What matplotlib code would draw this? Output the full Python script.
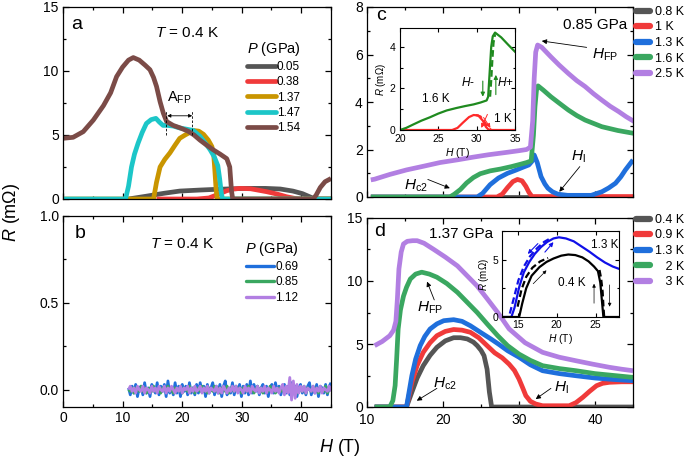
import numpy as np
import matplotlib
matplotlib.use("Agg")
import matplotlib.pyplot as plt
from matplotlib.ticker import MultipleLocator, FormatStrFormatter
from matplotlib.lines import Line2D

plt.rcParams['font.family'] = ['Liberation Sans', 'DejaVu Sans']
plt.rcParams['mathtext.fontset'] = 'custom'
plt.rcParams['mathtext.rm'] = 'Liberation Sans'
plt.rcParams['mathtext.it'] = 'Liberation Sans:italic'
plt.rcParams['mathtext.bf'] = 'Liberation Sans:bold'

# ---------------- colours ----------------
C_GRAY = '#555555'
C_RED = '#f03a3a'
C_GOLD = '#c99500'
C_CYAN = '#1cc6c8'
C_BROWN = '#7b4b47'
C_BLUE = '#1f6fdc'
C_GREEN = '#3aa760'
C_VIOLET = '#b27fe2'

# ---------------- panel a : T = 0.4 K ----------------
a_labels = ['0.05', '0.38', '1.37', '1.47', '1.54']
a_H_005 = [11, 14, 17, 19.6, 23, 26, 30.8, 34, 36.5, 38.6, 40.2, 41.4, 42.3, 45]
a_R_005 = [0, 0.22, 0.45, 0.62, 0.7, 0.76, 0.83, 0.83, 0.78, 0.62, 0.42, 0.18, 0.0, 0]
a_H_038 = [15.7, 22.5, 24.5, 26.0, 27.5, 28.7, 29.7, 31.5, 34.2, 36.0, 37.5, 39.0, 40.0, 45]
a_R_038 = [0, 0, 0.08, 0.35, 0.65, 0.78, 0.83, 0.8, 0.57, 0.38, 0.18, 0.04, 0, 0]
a_H_137 = [0, 15.2, 15.7, 16.3, 17.1, 17.95, 18.8, 19.6, 20.5, 21.3, 22.0, 22.8, 23.6, 24.4, 25.0, 25.3, 25.5, 25.7, 25.9, 45]
a_R_137 = [0, 0, 1.3, 2.5, 3.1, 3.6, 4.2, 4.74, 5.0, 5.2, 5.35, 5.3, 5.05, 4.6, 4.1, 3.5, 2.2, 0.8, 0, 0]
a_H_147 = [0, 10.5, 11.0, 11.5, 12.0, 12.6, 13.3, 14.0, 14.8, 15.6, 16.2, 16.8, 17.5, 18.5, 19.6, 20.8, 21.9, 23.0, 24.0, 24.7, 25.4, 26.0, 26.3, 26.6, 26.8, 45]
a_R_147 = [0, 0, 1.0, 2.5, 3.5, 4.35, 5.2, 5.9, 6.2, 6.3, 6.0, 5.75, 5.75, 5.7, 5.55, 5.45, 5.35, 4.9, 4.3, 3.85, 3.3, 2.6, 1.6, 0.4, 0, 0]
a_H_154 = [0, 1.7, 3.4, 5.1, 6.8, 8.0, 9.0, 10.0, 11.0, 11.8, 12.8, 13.8, 14.6, 15.2, 15.7, 16.3, 16.85, 17.4, 18.5, 19.7, 21.0, 22.0, 23.0, 24.0, 25.2, 26.4, 27.5, 28.0, 28.3, 28.5, 42.0, 42.5, 43.2, 44.0, 45]
a_R_154 = [4.74, 4.82, 5.26, 6.17, 7.3, 8.3, 9.56, 10.3, 10.85, 11.05, 10.85, 10.45, 10.1, 9.5, 8.8, 7.6, 6.7, 6.05, 5.75, 5.55, 5.3, 5.0, 4.6, 4.25, 3.85, 3.5, 3.15, 2.5, 0.6, 0, 0, 0.3, 0.9, 1.35, 1.6]

# ---------------- panel b : T = 0.4 K (noise at zero) ----------------
b_labels = ['0.69', '0.85', '1.12']
b_R_069 = [0.01, -0.03, 0.02, -0.02, 0.03, -0.04, 0.01, 0.02, -0.03, 0.04, -0.02, 0.01, -0.04, 0.03, 0.00,
           -0.02, 0.04, -0.03, 0.02, -0.01, 0.03, -0.04, 0.05, -0.02, 0.01, -0.03, 0.04, -0.02, 0.02, -0.04,
           0.03, -0.01, 0.02, -0.03, 0.04, -0.02, 0.01, -0.03, 0.03, -0.02, 0.04, -0.01, 0.02, -0.04, 0.03,
           -0.02, 0.01, 0.04, -0.03, 0.02, -0.02, 0.03, -0.04, 0.02, 0.05, -0.03, 0.01, -0.02, 0.04, -0.03,
           0.02, -0.01, 0.03, -0.04, 0.02, -0.02, 0.03, -0.03, 0.05,
           -0.02, 0.03, -0.01, 0.02, -0.03, 0.01, 0.03, -0.02, 0.02, -0.04, 0.01, 0.03, -0.02, 0.04, -0.01,
           0.02, -0.03, 0.01, 0.03, -0.02, 0.02, -0.03, 0.04, -0.01, 0.02, -0.04, 0.01, 0.03, -0.02, 0.01,
           -0.03, 0.02, 0.04, -0.03, 0.01, -0.02, 0.03, -0.04, 0.02, 0.01, -0.02, 0.03, -0.03, 0.02, 0.04]
b_R_085 = [0.0, -0.01, 0.01, -0.02, 0.01, 0.0, -0.01, 0.02, -0.01, 0.01, -0.02, 0.0, 0.01, -0.01, 0.02,
           -0.01, 0.0, 0.01, -0.02, 0.01, 0.0, -0.01, 0.02, -0.01, 0.01, -0.02, 0.01, 0.0, -0.01, 0.02,
           -0.02, 0.01, 0.0, -0.01, 0.02, -0.01, 0.01, -0.02, 0.01, 0.0, -0.01, 0.02, -0.01, 0.01, -0.02,
           0.01, 0.0, -0.01, 0.02, -0.01, 0.01, -0.02, 0.01, 0.0, -0.01, 0.02, -0.02, 0.01, 0.0, -0.01,
           0.02, -0.01, 0.01, -0.02, 0.01, 0.0, -0.01, 0.02, -0.01,
           0.01, -0.02, 0.0, 0.02, -0.01, 0.01, -0.02, 0.01, 0.0, -0.01, 0.02, -0.01, 0.01, -0.02, 0.0,
           0.01, -0.01, 0.02, -0.02, 0.01, 0.0, -0.01, 0.02, -0.01, 0.01, -0.02, 0.01, 0.0, -0.01, 0.02,
           -0.02, 0.01, 0.0, -0.01, 0.02, -0.01, 0.01, -0.02, 0.01, 0.0, -0.01, 0.02, -0.02, 0.01, 0.0]
b_R_112 = [0.0, 0.02, -0.01, 0.01, -0.02, 0.02, 0.0, -0.01, 0.02, -0.02, 0.01, 0.0, -0.02, 0.02, -0.01,
           0.01, -0.02, 0.02, 0.0, -0.01, 0.02, -0.02, 0.01, -0.01, 0.02, 0.0, -0.02, 0.01, -0.01, 0.02,
           -0.02, 0.01, 0.0, 0.02, -0.02, 0.01, -0.01, 0.02, -0.01, 0.0, 0.02, -0.02, 0.01, -0.01, 0.02,
           -0.02, 0.01, 0.0, -0.01, 0.02, -0.02, 0.01, -0.02, 0.02, 0.0, -0.02, 0.01, -0.01, 0.02, -0.01,
           0.02, -0.02, 0.01, 0.0, -0.02, 0.02, -0.01, 0.01, -0.02, 0.02, 0.0, -0.01, 0.02, -0.02, 0.01,
           -0.01, 0.02, -0.02, 0.01, 0.0, -0.02, 0.02, -0.01, 0.01, -0.02, 0.01, 0.03, -0.03, 0.02, -0.02,
           0.07, -0.06, 0.05, -0.05, 0.03, -0.02, 0.02, -0.01, 0.02, -0.02, 0.01, 0.0, -0.01, 0.02, -0.02,
           0.01, -0.01, 0.02, -0.02, 0.01, 0.0, -0.01, 0.02, -0.01]
b_H_start, b_H_end = 11.0, 45.0

# ---------------- panel c : 0.85 GPa ----------------
c_labels = ['0.8 K', '1 K', '1.3 K', '1.6 K', '2.5 K']
c_H_08 = [10.5, 45]
c_R_08 = [0, 0]
c_H_10 = [10.5, 27.1, 27.8, 28.5, 29.2, 29.8, 30.4, 30.9, 31.3, 31.7, 45]
c_R_10 = [0, 0, 0.12, 0.4, 0.65, 0.74, 0.68, 0.45, 0.2, 0.02, 0.02]
c_H_13 = [10.5, 24.5, 25.2, 26.2, 27.3, 28.5, 29.5, 30.5, 31.3, 31.7, 32.0, 32.4, 32.9, 33.4, 33.8, 34.4, 35.1, 36.4, 39.5, 40.9, 41.8, 42.7, 43.4, 44.0, 45.0]
c_R_13 = [0, 0, 0.15, 0.52, 0.8, 1.0, 1.12, 1.25, 1.35, 1.5, 1.77, 1.45, 0.86, 0.55, 0.37, 0.22, 0.12, 0.07, 0.07, 0.22, 0.38, 0.58, 0.85, 1.14, 1.56]
c_H_16 = [10.5, 20.9, 21.5, 22.3, 23.1, 24.0, 24.9, 26.2, 27.6, 29.0, 30.2, 31.0, 31.6, 31.9, 32.1, 32.3, 32.5, 33.2, 34.2, 35.3, 36.5, 37.6, 38.7, 40.9, 43.0, 45.1]
c_R_16 = [0, 0, 0.12, 0.32, 0.59, 0.82, 0.98, 1.1, 1.18, 1.28, 1.38, 1.45, 1.52, 2.6, 3.8, 4.5, 4.68, 4.5, 4.22, 3.95, 3.66, 3.43, 3.24, 2.96, 2.8, 2.68]
c_H_25 = [10.5, 11.0, 13, 15.2, 17.5, 19.6, 22, 24, 26, 28.4, 30, 31.0, 31.5, 31.8, 32.0, 32.2, 32.45, 33.0, 34.2, 35.3, 36.5, 37.6, 38.7, 39.8, 40.9, 42.0, 43.1, 44.1, 45.2]
c_R_25 = [0.72, 0.75, 0.95, 1.14, 1.3, 1.45, 1.57, 1.68, 1.78, 1.88, 1.95, 2.0, 2.1, 3.2, 5.0, 6.1, 6.4, 6.3, 5.9, 5.55, 5.2, 4.9, 4.65, 4.35, 4.08, 3.82, 3.6, 3.38, 3.17]

# inset c
ci_H_16 = [20, 20.8, 21.7, 22.8, 23.9, 25.0, 26.1, 27.4, 28.5, 29.6, 30.5, 31.3, 31.5, 31.7, 31.9, 32.1, 32.4, 33.2, 34.1, 35]
ci_R_16 = [0, 0.1, 0.26, 0.45, 0.61, 0.79, 0.94, 1.06, 1.15, 1.23, 1.32, 1.42, 1.6, 2.8, 4.0, 4.5, 4.68, 4.45, 4.1, 3.76]
ci_H_16d = [31.75, 31.9, 32.05, 32.2, 32.4]
ci_R_16d = [1.6, 2.4, 3.4, 4.2, 4.6]
ci_H_10 = [20, 26.8, 27.5, 28.2, 29.0, 29.6, 30.2, 30.8, 31.2, 31.6, 35]
ci_R_10 = [0, 0, 0.1, 0.35, 0.62, 0.72, 0.7, 0.45, 0.15, 0, 0]
ci_H_10d = [29.9, 30.5, 31.0, 31.5, 31.9]
ci_R_10d = [0.72, 0.65, 0.4, 0.12, 0]

# ---------------- panel d : 1.37 GPa ----------------
d_labels = ['0.4 K', '0.9 K', '1.3 K', '   2 K', '   3 K']
d_H_04 = [11, 15.2, 15.9, 16.6, 17.4, 18.3, 19.2, 20.3, 21.4, 22.3, 23.2, 24.0, 24.5, 25.0, 25.4, 25.8, 26.1, 26.4, 45]
d_R_04 = [0, 0, 1.17, 2.3, 3.28, 4.1, 4.74, 5.25, 5.5, 5.5, 5.4, 5.15, 4.87, 4.5, 4.07, 3.0, 1.2, 0, 0]
d_H_09 = [11, 15.2, 15.9, 16.6, 17.4, 18.3, 19.2, 20.3, 21.4, 22.5, 23.6, 24.7, 25.8, 26.8, 27.8, 28.7, 29.4, 30.0, 30.5, 30.9, 31.5, 32.2, 33.1, 36.6, 37.5, 38.4, 39.3, 40.2, 41.0, 41.9, 43.5, 45]
d_R_09 = [0, 0, 1.96, 3.3, 4.34, 5.1, 5.66, 6.0, 6.15, 6.1, 5.93, 5.5, 4.87, 4.3, 3.9, 3.4, 2.9, 2.22, 1.5, 0.9, 0.45, 0.24, 0.1, 0.1, 0.35, 0.77, 1.25, 1.69, 1.88, 1.96, 2.0, 2.0]
d_H_13 = [11, 15.2, 15.9, 16.4, 17.0, 17.6, 18.3, 19.2, 20.1, 21.4, 22.5, 23.6, 25.0, 26.3, 27.4, 28.5, 30.0, 31.5, 33.1, 35.3, 37.5, 40.0, 42.5, 45]
d_R_13 = [0, 0, 2.48, 3.8, 4.87, 5.6, 6.19, 6.6, 6.85, 6.93, 6.8, 6.45, 5.9, 5.4, 4.95, 4.47, 3.95, 3.35, 2.88, 2.65, 2.48, 2.3, 2.18, 2.09]
d_H_20 = [11, 13.0, 13.4, 13.7, 13.9, 14.1, 14.4, 14.8, 15.2, 15.7, 16.4, 17.2, 18.2, 19.2, 20.5, 21.9, 23.2, 24.5, 25.8, 27.2, 28.5, 30.0, 31.5, 33.1, 35.3, 37.5, 40.0, 42.5, 45]
d_R_20 = [0, 0, 0.5, 1.7, 3.8, 6.2, 7.7, 8.8, 9.5, 10.16, 10.55, 10.7, 10.55, 10.3, 9.8, 9.1, 8.3, 7.5, 6.6, 5.66, 4.87, 4.2, 3.7, 3.28, 3.05, 2.88, 2.65, 2.5, 2.35]
d_H_30 = [11, 12.0, 13.0, 13.5, 13.8, 14.0, 14.2, 14.5, 14.8, 15.3, 16.0, 16.6, 17.5, 18.8, 20.3, 21.9, 23.2, 24.5, 25.8, 27.2, 28.7, 30.8, 33.1, 35.3, 37.5, 39.7, 41.9, 43.5, 45]
d_R_30 = [4.87, 5.2, 5.66, 6.1, 6.8, 8.6, 10.95, 12.3, 12.94, 13.15, 13.2, 13.2, 13.0, 12.5, 11.9, 11.2, 10.4, 9.6, 8.6, 7.5, 6.2, 5.1, 4.34, 3.95, 3.67, 3.4, 3.15, 3.0, 2.88]

# inset d
di_H_13 = [13, 14.2, 14.6, 15.2, 15.8, 16.5, 17.2, 18.0, 18.8, 19.6, 20.3, 21.2, 22.2, 23.2, 24.2, 25.2, 26.2, 27.2, 28]
di_R_13 = [0, 0, 0.8, 2.6, 3.9, 4.8, 5.5, 6.1, 6.55, 6.85, 6.95, 6.85, 6.6, 6.15, 5.7, 5.2, 4.75, 4.4, 4.2]
di_H_13d = [14.0, 14.5, 15.1, 15.8, 16.6, 17.5, 18.4, 19.3]
di_R_13d = [0.3, 1.6, 3.2, 4.4, 5.3, 6.0, 6.55, 6.9]
di_H_04 = [13, 15.2, 15.6, 16.1, 16.8, 17.8, 18.7, 19.6, 20.6, 21.5, 22.4, 23.3, 24.1, 24.8, 25.3, 25.6, 25.8, 26.0, 28]
di_R_04 = [0, 0, 1.2, 2.5, 3.6, 4.35, 4.8, 5.1, 5.35, 5.45, 5.4, 5.2, 4.85, 4.4, 4.0, 3.0, 1.5, 0, 0]
di_H_04d = [15.0, 15.5, 16.1, 16.9, 17.9, 18.9]
di_R_04d = [0.9, 2.4, 3.5, 4.3, 4.85, 5.15]
di_H_04d2 = [25.5, 25.7, 25.9, 26.0, 26.1]
di_R_04d2 = [4.1, 3.4, 2.2, 1.0, 0]

# ---------------- figure ----------------
W, Hh = 685, 462
fig = plt.figure(figsize=(W / 100, Hh / 100), dpi=100)


def ax_px(l, t, r, b):
    return fig.add_axes([l / W, 1 - b / Hh, (r - l) / W, (b - t) / Hh])


def style(ax, lab=10, major=4.5, minor=2.5, lw=0.9):
    ax.tick_params(which='both', direction='in', top=True, right=True, labelsize=lab, width=lw, pad=3)
    ax.tick_params(which='major', length=major)
    ax.tick_params(which='minor', length=minor)
    for s in ax.spines.values():
        s.set_linewidth(lw)


LW = 3.4
kw = dict(solid_capstyle='butt', solid_joinstyle='round')

# ---- panel a
axa = ax_px(63, 7, 331, 199)
for H, R, c in [(a_H_005, a_R_005, C_GRAY), (a_H_038, a_R_038, C_RED), (a_H_137, a_R_137, C_GOLD),
                (a_H_147, a_R_147, C_CYAN), (a_H_154, a_R_154, C_BROWN)]:
    axa.plot(H, R, color=c, lw=LW, **kw)
axa.set_xlim(0, 45)
axa.set_ylim(0, 15)
axa.xaxis.set_major_locator(MultipleLocator(10))
axa.xaxis.set_minor_locator(MultipleLocator(5))
axa.yaxis.set_major_locator(MultipleLocator(5))
axa.yaxis.set_minor_locator(MultipleLocator(2.5))
style(axa)
axa.tick_params(labelbottom=False)
axa.text(2.35, 13.6, 'a', fontsize=14, ha='center', va='center')
axa.text(20.8, 12.97, '$T$ = 0.4 K', fontsize=11, ha='center', va='center')
axa.text(19.6, 7.9, 'A$_{\\rm FP}$', fontsize=10.5, ha='center', va='center')
axa.annotate('', xy=(21.7, 6.5), xytext=(17.5, 6.5),
             arrowprops=dict(arrowstyle='<|-|>', lw=0.6, color='k', mutation_scale=5, shrinkA=0, shrinkB=0))
for xv in (17.3, 21.7):
    axa.plot([xv, xv], [5.0, 6.95], color='k', lw=0.6, ls=(0, (3, 2)))
hs = [Line2D([], [], color=c, lw=LW, solid_capstyle='round') for c in (C_GRAY, C_RED, C_GOLD, C_CYAN, C_BROWN)]
leg = axa.legend(hs, a_labels, title='$P$ (GPa)', loc='upper left', bbox_to_anchor=(0.685, 0.83),
                 frameon=False, fontsize=8.5, title_fontsize=10.5, handlelength=2.4, handletextpad=0.1,
                 labelspacing=0.28, borderpad=0, borderaxespad=0)

# ---- panel b
axb = ax_px(63, 216, 331, 407)
for R, c in [(b_R_069, C_BLUE), (b_R_085, C_GREEN), (b_R_112, C_VIOLET)]:
    Hb = np.linspace(b_H_start, b_H_end, len(R))
    axb.plot(Hb, R, color=c, lw=2.0, **kw)
axb.set_xlim(0, 45)
axb.set_ylim(-0.1, 1.0)
axb.xaxis.set_major_locator(MultipleLocator(10))
axb.xaxis.set_minor_locator(MultipleLocator(5))
axb.yaxis.set_major_locator(MultipleLocator(0.5))
axb.yaxis.set_minor_locator(MultipleLocator(0.25))
axb.yaxis.set_major_formatter(FormatStrFormatter('%.1f'))
style(axb)
axb.text(2.85, 0.9, 'b', fontsize=14, ha='center', va='center')
axb.text(20.0, 0.84, '$T$ = 0.4 K', fontsize=11, ha='center', va='center')
hs = [Line2D([], [], color=c, lw=2.4, solid_capstyle='round') for c in (C_BLUE, C_GREEN, C_VIOLET)]
axb.legend(hs, b_labels, title='$P$ (GPa)', loc='upper left', bbox_to_anchor=(0.68, 0.875),
           frameon=False, fontsize=8.5, title_fontsize=10.5, handlelength=2.4, handletextpad=0.1,
           labelspacing=0.28, borderpad=0, borderaxespad=0)

# ---- panel c
axc = ax_px(367, 7, 633, 197)
for H, R, c in [(c_H_08, c_R_08, C_GRAY), (c_H_10, c_R_10, C_RED), (c_H_13, c_R_13, C_BLUE),
                (c_H_16, c_R_16, C_GREEN), (c_H_25, c_R_25, C_VIOLET)]:
    axc.plot(H, R, color=c, lw=LW, **kw)
axc.set_xlim(10, 45)
axc.set_ylim(0, 8)
axc.xaxis.set_major_locator(MultipleLocator(10))
axc.xaxis.set_minor_locator(MultipleLocator(5))
axc.yaxis.set_major_locator(MultipleLocator(2))
axc.yaxis.set_minor_locator(MultipleLocator(1))
style(axc)
axc.tick_params(labelbottom=False)
axc.text(11.8, 7.66, 'c', fontsize=14, ha='center', va='center')
axc.text(44.3, 7.24, '0.85 GPa', fontsize=11, ha='right', va='center')
axc.text(41.3, 5.98, '$H_{\\rm FP}$', fontsize=11, ha='center', va='center')
axc.annotate('', xy=(33.0, 6.57), xytext=(38.9, 6.3),
             arrowprops=dict(arrowstyle='-|>', lw=0.6, color='k', mutation_scale=7, shrinkA=0, shrinkB=0))
axc.text(37.8, 1.68, '$H_{\\rm l}$', fontsize=11, ha='center', va='center')
axc.annotate('', xy=(35.3, 0.22), xytext=(38.0, 1.28),
             arrowprops=dict(arrowstyle='-|>', lw=0.6, color='k', mutation_scale=7, shrinkA=0, shrinkB=0))
axc.text(16.4, 0.46, '$H_{\\rm c2}$', fontsize=11, ha='center', va='center')
axc.annotate('', xy=(20.9, 0.37), xytext=(18.0, 0.74),
             arrowprops=dict(arrowstyle='-|>', lw=0.6, color='k', mutation_scale=7, shrinkA=0, shrinkB=0))
hs = [Line2D([], [], color=c, lw=4.5, solid_capstyle='round') for c in (C_GRAY, C_RED, C_BLUE, C_GREEN, C_VIOLET)]
fig.legend(hs, c_labels, loc='upper left', bbox_to_anchor=(636 / W, 1 - 6 / Hh), frameon=False,
           fontsize=9, handlelength=1.1, handletextpad=0.45, labelspacing=0.28, borderpad=0, borderaxespad=0)

# inset c
axci = ax_px(400, 28, 515, 130)
axci.plot(ci_H_10, ci_R_10, color='#ff2a2a', lw=1.6)
axci.plot(ci_H_10d, ci_R_10d, color='#ff2a2a', lw=1.6, ls=(0, (3, 1.5)))
axci.plot(ci_H_16, ci_R_16, color='#1f8a1f', lw=1.6)
axci.plot(ci_H_16d, ci_R_16d, color='#1f8a1f', lw=1.6, ls=(0, (3, 1.5)))
axci.set_xlim(20, 35)
axci.set_ylim(0, 4.9)
axci.xaxis.set_major_locator(MultipleLocator(5))
axci.yaxis.set_major_locator(MultipleLocator(2))
axci.yaxis.set_minor_locator(MultipleLocator(1))
style(axci, lab=7.5, major=3, minor=1.8, lw=0.8)
axci.tick_params(axis='x', pad=3)
axci.tick_params(axis='y', pad=3.5)
axci.set_xlabel('$H$ (T)', fontsize=7.5, labelpad=1)
axci.set_ylabel('$R$ (m\u03a9)', fontsize=7, labelpad=1)
axci.text(24.7, 1.47, '1.6 K', fontsize=8.5, ha='center', va='center')
axci.text(33.4, 0.52, '1 K', fontsize=8.5, ha='center', va='center')
axci.text(28.9, 2.29, '$H$-', fontsize=8.5, ha='center', va='center')
axci.text(33.7, 2.29, '$H$+', fontsize=8.5, ha='center', va='center')
axci.annotate('', xy=(30.8, 1.6), xytext=(30.8, 2.35),
              arrowprops=dict(arrowstyle='-|>', lw=0.8, color='#1f8a1f', mutation_scale=6, shrinkA=0, shrinkB=0))
axci.annotate('', xy=(32.5, 2.65), xytext=(32.5, 1.7),
              arrowprops=dict(arrowstyle='-|>', lw=0.8, color='#1f8a1f', mutation_scale=6, shrinkA=0, shrinkB=0))
axci.annotate('', xy=(31.8, 0.1), xytext=(30.9, 0.6),
              arrowprops=dict(arrowstyle='-|>', lw=0.7, color='#ff2a2a', mutation_scale=6, shrinkA=0, shrinkB=0))
axci.annotate('', xy=(30.6, 0.1), xytext=(31.4, 0.75),
              arrowprops=dict(arrowstyle='-|>', lw=0.7, color='#ff2a2a', mutation_scale=6, shrinkA=0, shrinkB=0))

# ---- panel d
axd = ax_px(367, 218, 633, 407)
for H, R, c in [(d_H_04, d_R_04, C_GRAY), (d_H_09, d_R_09, C_RED), (d_H_13, d_R_13, C_BLUE),
                (d_H_20, d_R_20, C_GREEN), (d_H_30, d_R_30, C_VIOLET)]:
    axd.plot(H, R, color=c, lw=LW, **kw)
axd.set_xlim(10, 45)
axd.set_ylim(0, 15)
axd.xaxis.set_major_locator(MultipleLocator(10))
axd.xaxis.set_minor_locator(MultipleLocator(5))
axd.yaxis.set_major_locator(MultipleLocator(5))
axd.yaxis.set_minor_locator(MultipleLocator(2.5))
style(axd)
axd.tick_params(axis='x', pad=4)
axd.text(11.66, 13.9, 'd', fontsize=14, ha='center', va='center')
axd.text(22.4, 13.7, '1.37 GPa', fontsize=11, ha='center', va='center')
axd.text(18.3, 7.9, '$H_{\\rm FP}$', fontsize=11, ha='center', va='center')
axd.annotate('', xy=(17.9, 9.95), xytext=(18.85, 8.5),
             arrowprops=dict(arrowstyle='-|>', lw=0.6, color='k', mutation_scale=7, shrinkA=0, shrinkB=0))
axd.text(20.3, 1.83, '$H_{\\rm c2}$', fontsize=11, ha='center', va='center')
axd.annotate('', xy=(16.55, 0.5), xytext=(19.2, 1.48),
             arrowprops=dict(arrowstyle='-|>', lw=0.6, color='k', mutation_scale=7, shrinkA=0, shrinkB=0))
axd.text(35.6, 1.5, '$H_{\\rm l}$', fontsize=11, ha='center', va='center')
axd.annotate('', xy=(32.2, 0.63), xytext=(34.2, 1.48),
             arrowprops=dict(arrowstyle='-|>', lw=0.6, color='k', mutation_scale=7, shrinkA=0, shrinkB=0))
hs = [Line2D([], [], color=c, lw=4.5, solid_capstyle='round') for c in (C_GRAY, C_RED, C_BLUE, C_GREEN, C_VIOLET)]
fig.legend(hs, d_labels, loc='upper left', bbox_to_anchor=(636 / W, 1 - 214 / Hh), frameon=False,
           fontsize=9, handlelength=1.1, handletextpad=0.45, labelspacing=0.28, borderpad=0, borderaxespad=0)

# inset d
axdi = ax_px(502, 231, 619, 317)
axdi.plot(di_H_13, di_R_13, color='#1010e8', lw=1.6)
axdi.plot(di_H_13d, di_R_13d, color='#1010e8', lw=1.6, ls=(0, (3, 1.5)))
axdi.plot(di_H_04, di_R_04, color='k', lw=1.6)
axdi.plot(di_H_04d, di_R_04d, color='k', lw=1.6, ls=(0, (3, 1.5)))
axdi.plot(di_H_04d2, di_R_04d2, color='k', lw=1.6, ls=(0, (3, 1.5)))
axdi.set_xlim(13, 28)
axdi.set_ylim(0, 7.5)
axdi.xaxis.set_major_locator(MultipleLocator(5))
axdi.yaxis.set_major_locator(MultipleLocator(5))
axdi.yaxis.set_minor_locator(MultipleLocator(2.5))
style(axdi, lab=7.5, major=3, minor=1.8, lw=0.8)
axdi.tick_params(pad=2.5)
axdi.set_xlabel('$H$ (T)', fontsize=7.5, labelpad=1)
axdi.set_ylabel('$R$ (m\u03a9)', fontsize=7, labelpad=1)
axdi.text(26.2, 6.25, '1.3 K', fontsize=8.5, ha='center', va='center')
axdi.text(21.9, 3.0, '0.4 K', fontsize=8.5, ha='center', va='center')
axdi.annotate('', xy=(16.3, 5.5), xytext=(17.6, 6.4),
              arrowprops=dict(arrowstyle='-|>', lw=0.8, color='#1010e8', mutation_scale=6, shrinkA=0, shrinkB=0))
axdi.annotate('', xy=(19.6, 6.53), xytext=(18.5, 5.66),
              arrowprops=dict(arrowstyle='-|>', lw=0.8, color='#1010e8', mutation_scale=6, shrinkA=0, shrinkB=0))
axdi.annotate('', xy=(18.7, 4.07), xytext=(17.0, 2.9),
              arrowprops=dict(arrowstyle='-|>', lw=0.5, color='k', mutation_scale=5, shrinkA=0, shrinkB=0))
axdi.annotate('', xy=(24.8, 2.9), xytext=(24.8, 1.2),
              arrowprops=dict(arrowstyle='-|>', lw=0.5, color='k', mutation_scale=5, shrinkA=0, shrinkB=0))
axdi.annotate('', xy=(26.8, 0.9), xytext=(26.8, 2.8),
              arrowprops=dict(arrowstyle='-|>', lw=0.5, color='k', mutation_scale=5, shrinkA=0, shrinkB=0))

# ---- common labels
fig.text(340 / W, 1 - 447 / Hh, '$H$ (T)', fontsize=13, ha='center', va='center')
fig.text(12 / W, 1 - 212 / Hh, '$R$ (m\u03a9)', fontsize=13, ha='center', va='center', rotation=90)

fig.savefig('out.png', dpi=100)
